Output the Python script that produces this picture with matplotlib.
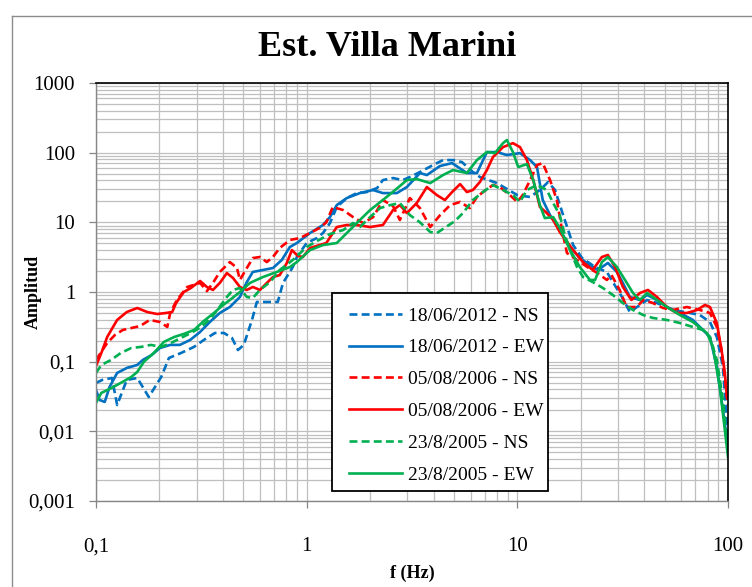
import matplotlib
matplotlib.use('Agg')
import numpy as np
import matplotlib.pyplot as plt
from matplotlib.ticker import LogLocator, NullFormatter
from matplotlib.lines import Line2D
from matplotlib.patches import Rectangle

plt.rcParams['font.family'] = ['Liberation Serif', 'DejaVu Serif']

# ---------------- data (frequency in Hz, amplitude) ----------------
f_2012_ns = [0.100, 0.107, 0.119, 0.126, 0.140, 0.157, 0.178, 0.204, 0.222, 0.253, 0.292, 0.325, 0.367,
             0.405, 0.442, 0.472, 0.503, 0.550, 0.580, 0.729, 0.772, 0.859, 0.898, 1.00, 1.12, 1.195, 1.29,
             1.39, 1.55, 1.73, 1.93, 2.16, 2.30, 2.57, 2.86, 3.09, 3.45, 3.98, 4.44, 4.95, 5.46, 6.15, 6.64,
             8.0, 10.0, 11.5, 12.8, 14.0, 15.1, 16.5, 18.4, 20.3, 23.4, 26.6, 28.0, 31.4, 34.2, 37.0, 41.3,
             46.0, 54.8, 65.9, 73.5, 82.1, 88.5, 94.6, 100]
a_2012_ns = [0.0495, 0.0546, 0.0583, 0.0239, 0.0546, 0.0583, 0.0311, 0.0603, 0.113, 0.133, 0.163, 0.205,
             0.258, 0.258, 0.219, 0.147, 0.174, 0.397, 0.719, 0.719, 1.35, 2.28, 3.18, 5.05, 5.96, 7.02,
             9.77, 16.6, 22.3, 26.3, 27.2, 31.1, 40.4, 43.2, 40.4, 44.7, 52.7, 66.4, 78.3, 78.3, 73.3, 52.7,
             44.7, 36.6, 24.6, 23.1, 29.1, 37.9, 29.1, 12.7, 4.72, 3.07, 2.28, 1.94, 1.49, 0.848, 0.516,
             0.609, 0.768, 0.695, 0.552, 0.500, 0.468, 0.371, 0.226, 0.0839, 0.00753]

f_2012_ew = [0.100, 0.104, 0.110, 0.116, 0.126, 0.140, 0.157, 0.167, 0.184, 0.201, 0.225, 0.250, 0.280,
             0.312, 0.347, 0.387, 0.432, 0.482, 0.520, 0.555, 0.620, 0.692, 0.762, 0.832, 0.898, 1.037,
             1.195, 1.29, 1.39, 1.55, 1.79, 2.065, 2.30, 2.68, 2.99, 3.45, 3.72, 4.29, 4.90, 5.76, 6.43,
             7.17, 8.0, 8.92, 10.29, 11.5, 12.4, 13.2, 14.3, 15.9, 17.8, 19.8, 22.1, 24.1, 26.9, 29.7,
             31.7, 34.2, 38.2, 41.3, 46.0, 51.3, 59.1, 68.1, 76.0, 82.1, 88.5, 93.2, 100]
a_2012_ew = [0.0393, 0.0282, 0.0264, 0.0434, 0.0689, 0.0812, 0.0897, 0.106, 0.125, 0.157, 0.174, 0.174,
             0.205, 0.267, 0.371, 0.500, 0.609, 0.848, 1.39, 1.94, 2.07, 2.21, 2.88, 4.42, 5.05, 7.02,
             9.15, 11.9, 17.7, 22.3, 26.3, 29.1, 26.3, 26.3, 32.1, 51.0, 47.7, 64.2, 70.9, 51.0, 51.0,
             102, 102, 92.4, 98.6, 78.3, 62.1, 20.9, 12.7, 7.75, 4.42, 3.07, 2.44, 2.07, 2.61, 1.94,
             1.35, 0.848, 0.768, 0.906, 0.768, 0.609, 0.500, 0.397, 0.285, 0.226, 0.0839, 0.0282, 0.00597]

f_2006_ns = [0.100, 0.113, 0.123, 0.134, 0.162, 0.180, 0.201, 0.218, 0.225, 0.242, 0.271, 0.312, 0.336,
             0.359, 0.387, 0.432, 0.467, 0.482, 0.520, 0.555, 0.600, 0.647, 0.692, 0.745, 0.832, 0.930,
             1.037, 1.15, 1.24, 1.33, 1.49, 1.66, 1.85, 2.07, 2.30, 2.57, 2.77, 3.09, 3.45, 3.86, 4.30,
             4.80, 5.35, 5.95, 6.43, 6.87, 7.66, 8.26, 9.22, 10.0, 10.6, 11.5, 12.4, 13.2, 14.3, 15.4,
             16.3, 17.2, 19.2, 21.5, 24.0, 26.6, 28.0, 30.6, 33.0, 37.0, 39.5, 44.0, 49.2, 54.8, 63.8,
             73.5, 82.1, 88.5, 93.2, 100]
a_2006_ns = [0.106, 0.1855, 0.2415, 0.285, 0.325, 0.397, 0.371, 0.315, 0.500, 0.768, 1.18, 1.35, 1.03,
             1.35, 1.94, 2.69, 2.21, 1.49, 2.21, 3.07, 3.18, 2.69, 3.18, 4.28, 5.57, 5.96, 7.02, 8.28,
             10.0, 16.6, 15.0, 11.9, 9.77, 11.9, 20.9, 17.1, 10.8, 22.3, 16.0, 8.56, 12.7, 17.7, 19.6,
             16.0, 23.1, 27.2, 34.3, 32.1, 24.6, 19.6, 24.6, 40.4, 66.4, 70.9, 40.4, 20.9, 7.75, 3.63,
             2.88, 2.28, 1.87, 1.49, 1.75, 1.07, 0.609, 0.609, 0.768, 0.695, 0.589, 0.552, 0.609, 0.552,
             0.500, 0.315, 0.147, 0.0239]

f_2006_ew = [0.100, 0.106, 0.113, 0.126, 0.140, 0.157, 0.175, 0.195, 0.215, 0.230, 0.240, 0.261, 0.282,
             0.312, 0.336, 0.359, 0.387, 0.418, 0.447, 0.482, 0.520, 0.555, 0.600, 0.647, 0.692, 0.745,
             0.805, 0.851, 0.908, 0.960, 1.037, 1.152, 1.24, 1.39, 1.55, 1.73, 2.00, 2.30, 2.57, 2.77,
             2.99, 3.33, 3.72, 4.15, 4.53, 4.90, 5.35, 5.76, 6.15, 6.64, 7.17, 7.66, 8.55, 9.53, 10.3,
             11.1, 11.9, 12.8, 13.8, 14.8, 15.9, 18.4, 20.5, 22.8, 25.2, 26.9, 29.1, 31.7, 34.8, 38.2,
             41.7, 46.0, 51.3, 57.0, 63.8, 71.3, 77.7, 82.1, 88.5, 93.2, 96.6, 98.8]
a_2006_ew = [0.0868, 0.133, 0.226, 0.397, 0.516, 0.589, 0.516, 0.483, 0.500, 0.516, 0.695, 1.00, 1.14,
             1.44, 1.18, 1.07, 1.35, 1.87, 1.59, 1.18, 1.07, 1.18, 1.07, 1.35, 1.64, 1.75, 2.61, 4.00,
             3.29, 3.18, 4.28, 4.72, 5.05, 8.56, 9.15, 9.15, 8.56, 9.15, 15.0, 17.7, 13.6, 18.9, 32.1,
             24.6, 20.9, 27.2, 35.4, 27.2, 29.1, 37.9, 56.3, 86.5, 120, 137, 120, 78.3, 40.4, 16.6, 13.6,
             10.8, 7.26, 4.00, 2.69, 2.07, 3.18, 3.40, 2.28, 1.18, 0.768, 0.967, 1.07, 0.848, 0.609,
             0.500, 0.500, 0.552, 0.651, 0.609, 0.359, 0.147, 0.0689, 0.0311]

f_2005_ns = [0.100, 0.106, 0.118, 0.131, 0.147, 0.164, 0.182, 0.204, 0.227, 0.253, 0.282, 0.316, 0.352,
             0.392, 0.418, 0.447, 0.482, 0.520, 0.555, 0.600, 0.670, 0.745, 0.859, 1.00, 1.12, 1.29, 1.49,
             1.66, 1.79, 2.00, 2.23, 2.49, 2.77, 3.09, 3.45, 3.86, 4.15, 4.58, 5.05, 5.52, 6.15, 6.86,
             7.66, 8.55, 9.53, 10.3, 11.1, 12.4, 13.8, 14.8, 15.9, 16.8, 17.8, 19.2, 20.5, 22.8, 25.5,
             28.4, 31.7, 35.4, 39.5, 44.0, 51.3, 59.1, 68.1, 76.0, 82.1, 88.5, 94.6, 100]
a_2005_ns = [0.0689, 0.0897, 0.106, 0.133, 0.157, 0.163, 0.174, 0.163, 0.1855, 0.219, 0.258, 0.315,
             0.424, 0.651, 0.848, 1.07, 1.14, 0.848, 0.820, 1.07, 1.39, 2.07, 2.88, 4.42, 5.39, 6.79,
             7.75, 9.77, 8.56, 11.9, 16.0, 17.7, 18.9, 12.7, 10.0, 7.26, 7.02, 8.56, 10.4, 13.6, 20.9,
             27.2, 34.3, 29.1, 24.6, 19.6, 29.1, 34.3, 29.1, 18.9, 12.7, 6.58, 4.00, 2.28, 1.64, 1.39,
             1.14, 0.906, 0.695, 0.552, 0.468, 0.424, 0.397, 0.359, 0.315, 0.285, 0.226, 0.106, 0.0282,
             0.00506]

f_2005_ew = [0.100, 0.106, 0.116, 0.131, 0.147, 0.157, 0.169, 0.188, 0.210, 0.235, 0.261, 0.292, 0.325,
             0.363, 0.396, 0.432, 0.482, 0.538, 0.620, 0.722, 0.832, 0.898, 1.037, 1.195, 1.39, 1.55,
             1.73, 2.00, 2.30, 2.63, 2.99, 3.33, 3.86, 4.44, 4.95, 5.76, 6.43, 7.17, 7.83, 8.55, 8.92,
             9.53, 10.1, 11.1, 11.9, 12.8, 13.5, 14.8, 15.9, 17.8, 19.8, 22.1, 23.4, 25.2, 26.9, 29.7,
             33.1, 35.4, 38.2, 41.3, 46.0, 51.3, 59.1, 68.1, 79.4, 84.8, 91.4, 100]
a_2005_ew = [0.0256, 0.0356, 0.0406, 0.0495, 0.0603, 0.0712, 0.100, 0.133, 0.192, 0.226, 0.250, 0.285,
             0.384, 0.500, 0.630, 0.768, 1.00, 1.35, 1.64, 1.94, 2.28, 2.69, 4.00, 4.72, 5.05, 7.02,
             9.77, 15.0, 20.9, 29.1, 40.4, 41.8, 36.6, 47.7, 56.3, 51.0, 78.3, 102, 98.6, 137, 152, 102,
             62.1, 68.6, 40.4, 17.7, 11.5, 11.9, 8.28, 4.00, 2.28, 1.49, 1.49, 2.69, 3.18, 2.28, 1.35,
             0.967, 0.768, 0.967, 0.768, 0.609, 0.468, 0.371, 0.258, 0.163, 0.0434, 0.00429]

labels = ['18/06/2012 - NS', '18/06/2012 - EW', '05/08/2006 - NS',
          '05/08/2006 - EW', '23/8/2005 - NS', '23/8/2005 - EW']
x_ticks = [0.1, 1, 10, 100]
x_ticklabels = ['0,1', '1', '10', '100']
y_ticks = [0.001, 0.01, 0.1, 1, 10, 100, 1000]
y_ticklabels = ['0,001', '0,01', '0,1', '1', '10', '100', '1000']

# ---------------- figure ----------------
W, H = 752, 587
fig = plt.figure(figsize=(W / 100, H / 100), dpi=100)
fig.patch.set_facecolor('white')

ax = fig.add_axes([96 / W, 1 - 501 / H, 632 / W, 418 / H])
ax.set_xscale('log')
ax.set_yscale('log')
ax.set_xlim(0.1, 100)
ax.set_ylim(0.001, 1000)

ax.xaxis.set_minor_locator(LogLocator(base=10, subs=np.arange(2, 10), numticks=100))
ax.yaxis.set_minor_locator(LogLocator(base=10, subs=np.arange(2, 10), numticks=100))
ax.xaxis.set_minor_formatter(NullFormatter())
ax.yaxis.set_minor_formatter(NullFormatter())
ax.set_xticks(x_ticks)
ax.set_xticklabels(x_ticklabels)
ax.set_yticks(y_ticks)
ax.set_yticklabels(y_ticklabels)

ax.grid(which='both', color='#BFBFBF', linewidth=0.9)
ax.set_axisbelow(True)
ax.tick_params(which='minor', length=0)
ax.tick_params(which='major', length=5, width=0.9, color='#868686', direction='out',
               labelsize=15)
ax.tick_params(axis='x', pad=21)
ax.tick_params(axis='y', pad=10)

for s in ['top', 'right']:
    ax.spines[s].set_color('black')
    ax.spines[s].set_linewidth(1.2)
for s in ['left', 'bottom']:
    ax.spines[s].set_color('#868686')
    ax.spines[s].set_linewidth(1.0)

blue, red, green = '#0070C0', '#FF0000', '#00B050'
dash = (0, (3.0, 1.6))
lw = 1.9
series = [
    (f_2012_ns, a_2012_ns, blue, dash),
    (f_2012_ew, a_2012_ew, blue, '-'),
    (f_2006_ns, a_2006_ns, red, dash),
    (f_2006_ew, a_2006_ew, red, '-'),
    (f_2005_ns, a_2005_ns, green, dash),
    (f_2005_ew, a_2005_ew, green, '-'),
]
for (fx, ay, c, ls), lab in zip(series, labels):
    ax.plot(fx, ay, color=c, linestyle=ls, linewidth=lw, label=lab, zorder=2,
            solid_joinstyle='round', dash_joinstyle='round')

# legend box (frame drawn separately, under the legend entries)
box = Rectangle((332 / W, 1 - 491 / H), 216 / W, 198 / H, transform=fig.transFigure,
                facecolor='white', edgecolor='black', linewidth=1.3, zorder=4, clip_on=False)
ax.add_patch(box)
leg = ax.legend(loc='upper left', bbox_to_anchor=(349 / W, 1 - 307 / H),
                bbox_transform=fig.transFigure, borderaxespad=0, borderpad=0,
                fontsize=14, frameon=False,
                handlelength=2.75, handletextpad=0.27, labelspacing=0.73)
leg.set_zorder(6)

fig.text(387 / W, 1 - 47 / H, 'Est. Villa Marini', ha='center', va='center',
         fontsize=26, fontweight='bold')
fig.text(412 / W, 1 - 573 / H, 'f (Hz)', ha='center', va='center',
         fontsize=13, fontweight='bold')
fig.text(33 / W, 1 - 292 / H, 'Amplitud', ha='center', va='center', rotation=90,
         fontsize=13, fontweight='bold')

# outer chart-area border
fig.add_artist(Line2D([12 / W, 1.0], [1 - 16 / H, 1 - 16 / H], transform=fig.transFigure,
                      color='#8c8c8c', linewidth=1.0))
fig.add_artist(Line2D([12 / W, 12 / W], [0.0, 1 - 16 / H], transform=fig.transFigure,
                      color='#8c8c8c', linewidth=1.0))

fig.savefig('out.png', dpi=100)
